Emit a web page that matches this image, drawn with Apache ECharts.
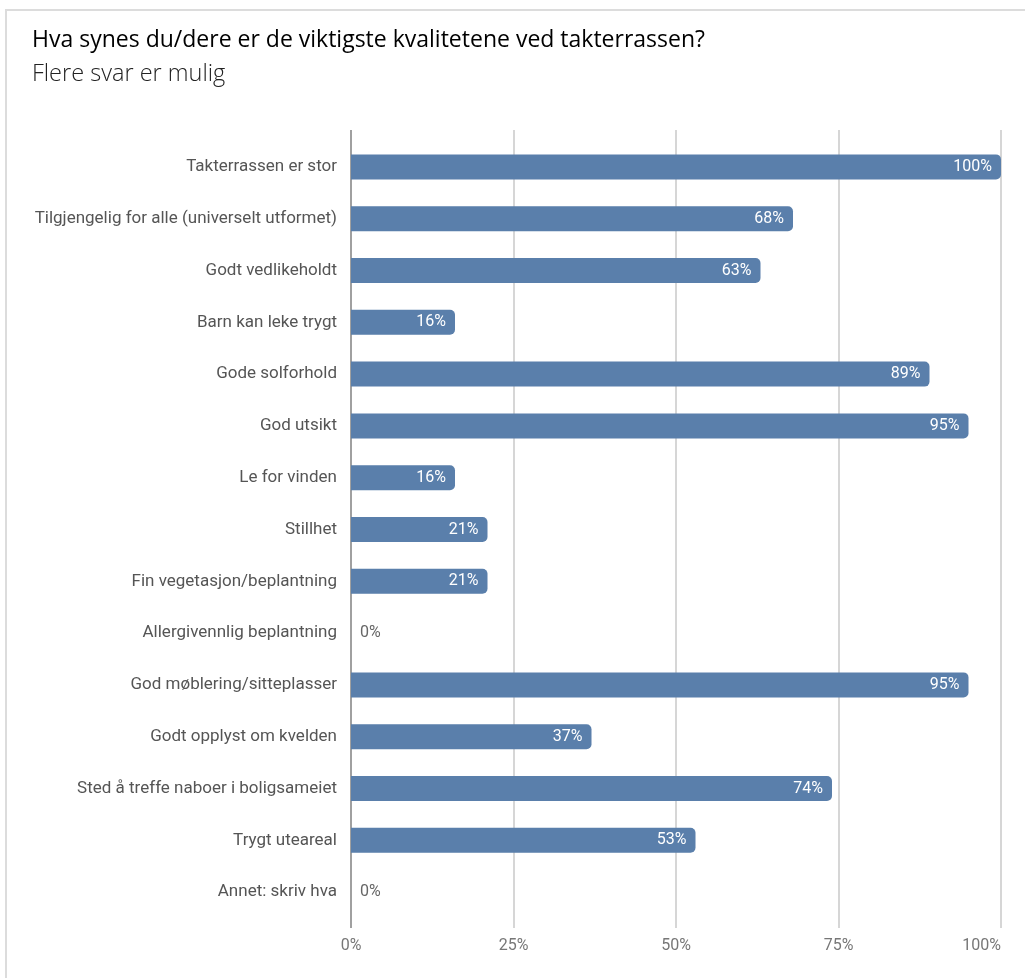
<!DOCTYPE html>
<html>
<head>
<meta charset="utf-8">
<script src="https://cdn.jsdelivr.net/npm/echarts@6/dist/echarts.min.js"></script>
<style>
html,body{margin:0;padding:0;background:#fff;}
#frame{position:absolute;left:5px;top:9px;width:1020px;height:969px;border-left:2px solid #dcdcdc;border-top:2px solid #dcdcdc;box-sizing:border-box;}
#chart{position:absolute;left:0;top:0;width:1026px;height:978px;}
</style>
</head>
<body>
<div id="frame"></div>
<div id="chart"></div>
<script>
const titleText = 'Hva synes du/dere er de viktigste kvalitetene ved takterrassen?';
const subtitleText = 'Flere svar er mulig';
const categories = [
  'Takterrassen er stor',
  'Tilgjengelig for alle (universelt utformet)',
  'Godt vedlikeholdt',
  'Barn kan leke trygt',
  'Gode solforhold',
  'God utsikt',
  'Le for vinden',
  'Stillhet',
  'Fin vegetasjon/beplantning',
  'Allergivennlig beplantning',
  'God møblering/sitteplasser',
  'Godt opplyst om kvelden',
  'Sted å treffe naboer i boligsameiet',
  'Trygt uteareal',
  'Annet: skriv hva'
];
const values = [100, 68, 63, 16, 89, 95, 16, 21, 21, 0, 95, 37, 74, 53, 0];
const axisMin = 0, axisMax = 100, axisInterval = 25;

const fontUI = 'Roboto, "Noto Sans", sans-serif';
const barData = values.map(v => v === 0 ? {
  value: v,
  label: {position: 'right', color: '#666', distance: 9}
} : v);

const chart = echarts.init(document.getElementById('chart'));
chart.setOption({
  animation: false,
  title: {
    text: titleText,
    subtext: subtitleText,
    left: 27,
    top: 20,
    itemGap: 4,
    textStyle: {fontFamily: '"Open Sans", sans-serif', fontSize: 23, fontWeight: 'normal', color: '#000', lineHeight: 30},
    subtextStyle: {fontFamily: '"Open Sans", sans-serif', fontSize: 23.5, fontWeight: 300, color: '#222', lineHeight: 30}
  },
  grid: [
    {left: 351, right: 25, top: 141, bottom: 60, containLabel: false},
    {left: 351, right: 25, top: 130, bottom: 50, containLabel: false}
  ],
  xAxis: [
    {gridIndex: 0, type: 'value', min: axisMin, max: axisMax, interval: axisInterval,
     axisLine: {show: false}, axisTick: {show: false}, axisLabel: {show: false}, splitLine: {show: false}},
    {gridIndex: 1, type: 'value', min: axisMin, max: axisMax, interval: axisInterval,
     axisLine: {show: false}, axisTick: {show: false},
     axisLabel: {formatter: '{value}%', color: '#777', fontFamily: fontUI, fontSize: 16, margin: 10, alignMaxLabel: 'right'},
     splitLine: {show: true, lineStyle: {color: ['#a0a0a0', '#d6d6d6', '#d6d6d6', '#d6d6d6', '#d6d6d6'], width: 2}}}
  ],
  yAxis: [
    {gridIndex: 0, type: 'category', data: categories, inverse: true,
     axisLine: {show: false}, axisTick: {show: false}, splitLine: {show: false},
     axisLabel: {color: '#555', fontFamily: fontUI, fontSize: 17, margin: 14}},
    {gridIndex: 1, type: 'category', data: categories, inverse: true, show: false}
  ],
  series: [{
    type: 'bar',
    xAxisIndex: 0, yAxisIndex: 0,
    data: barData,
    barWidth: 25,
    itemStyle: {color: '#5a7fab', borderRadius: [0, 5, 5, 0]},
    label: {show: true, position: 'insideRight', formatter: '{c}%', color: '#fff',
            fontFamily: fontUI, fontSize: 16, distance: 9}
  }]
});
</script>
</body>
</html>
